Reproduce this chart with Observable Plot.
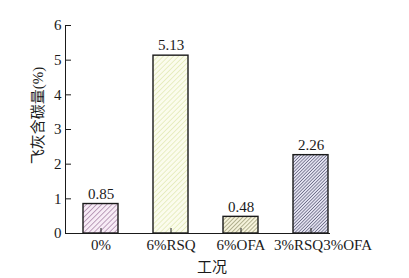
<!DOCTYPE html>
<html>
<head>
<meta charset="utf-8">
<script src="https://cdn.jsdelivr.net/npm/d3@7"></script>
<script src="https://cdn.jsdelivr.net/npm/@observablehq/plot@0.6"></script>
<style>
  body { margin: 0; background: #fff; }
</style>
</head>
<body>
<div id="chart"></div>
<script>
const categories = ["0%", "6%RSQ", "6%OFA", "3%RSQ3%OFA"];
const values = [0.85, 5.13, 0.48, 2.26];
const yTicks = [0, 1, 2, 3, 4, 5, 6];
const xTitle = "工况";
const yTitle = "飞灰含碳量(%)";

// hatch styles: background, line colour, perpendicular spacing
const hatchBg = ["#f7ecf6", "#fbfced", "#f6f3dc", "#e4e3f1"];
const hatchLine = ["#8d5e8c", "#d9e2a0", "#7d7b52", "#3c3c5c"];
const hatchGap = [3.6, 3.6, 2.9, 2.3];

const data = categories.map((c, i) => ({cat: c, value: values[i]}));
const ink = "#1a1a1a";

const plot = Plot.plot({
  width: 409,
  height: 278,
  marginLeft: 65,
  marginRight: 63,
  marginTop: 25,
  marginBottom: 45,
  style: {fontSize: "15px", fontFamily: "'Liberation Serif', 'Noto Sans CJK SC', serif", color: ink, background: "transparent"},
  x: {domain: categories, paddingInner: 0.5, paddingOuter: 0.25, label: null},
  y: {domain: [0, 6], label: null},
  color: {type: "ordinal", domain: categories, range: categories.map((c, i) => `url(#hatch${i})`)},
  marks: [
    Plot.barY(data, {x: "cat", y: "value", fill: "cat", stroke: ink, strokeWidth: 1.4}),
    Plot.axisX({tickSize: -5, tickPadding: 11, fontSize: 15, stroke: ink}),
    Plot.axisY({ticks: yTicks, tickSize: -6, tickPadding: 10, fontSize: 15, stroke: ink, tickFormat: d3.format("d")}),
    Plot.frame({anchor: "left", stroke: ink, strokeWidth: 1}),
    Plot.ruleY([0], {stroke: ink, strokeWidth: 1, insetRight: 16}),
    Plot.text(data, {x: "cat", y: "value", text: d => d.value.toFixed(2), dy: -10, fontSize: 15, fill: ink}),
    Plot.text([yTitle], {frameAnchor: "left", textAnchor: "middle", lineAnchor: "middle", rotate: -90, dx: -27, dy: -14, fontSize: 15, fill: ink}),
    Plot.text([xTitle], {frameAnchor: "bottom", textAnchor: "middle", lineAnchor: "middle", dx: 6, dy: 34, fontSize: 15, fill: ink})
  ]
});

// hatch pattern definitions
const svg = d3.select(plot);
const defs = svg.insert("defs", ":first-child");
hatchBg.forEach((bg, i) => {
  const g = hatchGap[i];
  const p = defs.append("pattern")
    .attr("id", `hatch${i}`)
    .attr("patternUnits", "userSpaceOnUse")
    .attr("width", g)
    .attr("height", g)
    .attr("patternTransform", "rotate(45)");
  p.append("rect").attr("width", g).attr("height", g).attr("fill", bg);
  p.append("line").attr("x1", 0).attr("y1", 0).attr("x2", 0).attr("y2", g)
    .attr("stroke", hatchLine[i]).attr("stroke-width", 1.1);
});

// the reference sets its last category label a little to the right
const xLabels = svg.selectAll('g[aria-label="x-axis tick label"] text').nodes();
if (xLabels.length) d3.select(xLabels[xLabels.length - 1]).attr("dx", 12);

document.getElementById("chart").appendChild(plot);
</script>
</body>
</html>
